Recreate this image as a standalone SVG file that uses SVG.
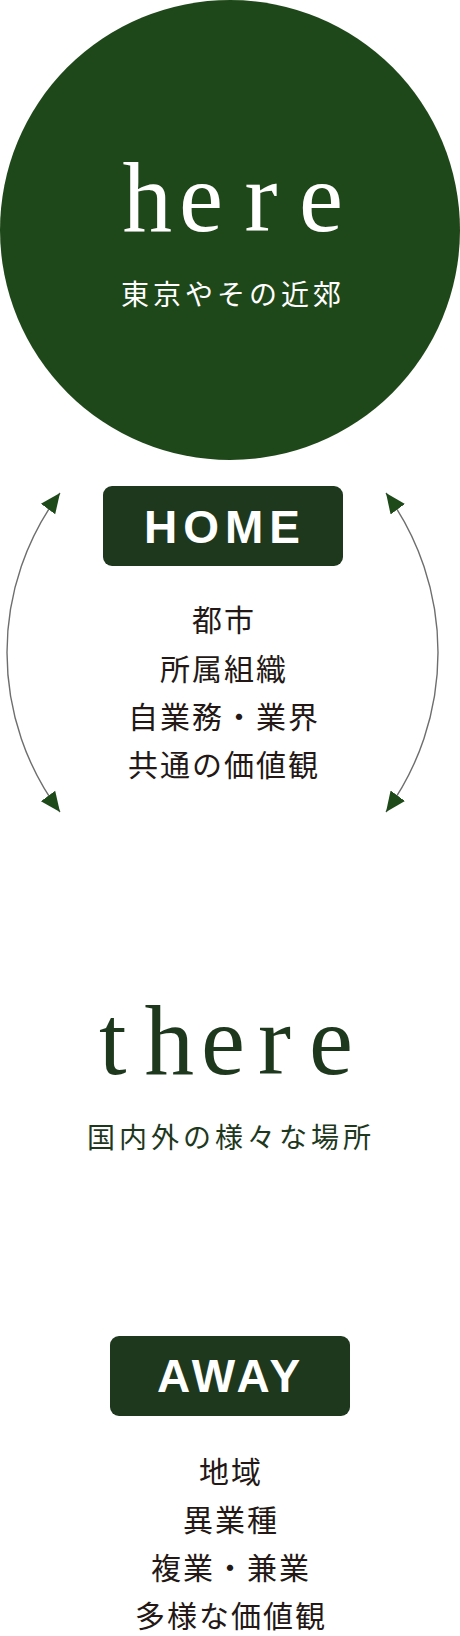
<svg xmlns="http://www.w3.org/2000/svg" width="460" height="1636" viewBox="0 0 460 1636">
  <style>
    .serif { font-family: "Liberation Serif", "Times New Roman", serif; font-size: 99px; }
    .sub { font-family: "Noto Sans CJK JP", sans-serif; font-size: 28px; letter-spacing: 4px; }
    .label { font-family: "Liberation Sans", Arial, sans-serif; font-weight: bold; font-size: 46px; fill: #ffffff; }
    .list { font-family: "Noto Sans CJK JP", sans-serif; font-size: 30px; letter-spacing: 2px; fill: #231815; text-anchor: middle; }
    .box { fill: #1e381e; }
    .conn { fill: none; stroke: #6e6e6e; stroke-width: 1.4; marker-start: url(#head); marker-end: url(#head); }
  </style>
  <defs>
    <marker id="head" markerUnits="userSpaceOnUse" markerWidth="20" markerHeight="20" viewBox="0 0 18 17" refX="18" refY="8.5" orient="auto-start-reverse">
      <path d="M0,0.5 L18,8.5 L0,16.5 z" fill="#1e4a1a"/>
    </marker>
  </defs>

  <g id="here">
    <circle cx="230" cy="230" r="230" fill="#1f481a"/>
    <text class="serif" fill="#ffffff" x="122.5 179 244.5 299" y="231">here</text>
    <text class="sub" fill="#ffffff" x="121" y="305">東京やその近郊</text>
  </g>

  <g id="home">
    <rect class="box" x="103" y="486" width="240" height="80" rx="9"/>
    <text class="label" x="144" y="543" letter-spacing="6">HOME</text>
    <text class="list" x="224" y="631">都市</text>
    <text class="list" x="224" y="680">所属組織</text>
    <text class="list" x="224" y="728">自業務・業界</text>
    <text class="list" x="224" y="776">共通の価値観</text>
  </g>

  <g id="connectors">
    <path class="conn" d="M60,493 A266.5,266.5 0 0 0 60,812"/>
    <path class="conn" d="M386,493 A270.6,270.6 0 0 1 386,812"/>
  </g>

  <g id="there">
    <text class="serif" fill="#1e381e" x="99 144.5 201 258 309" y="1074">there</text>
    <text class="sub" fill="#1e381e" x="87" y="1148">国内外の様々な場所</text>
  </g>

  <g id="away">
    <rect class="box" x="110" y="1336" width="240" height="80" rx="9"/>
    <text class="label" x="157" y="1392" letter-spacing="4">AWAY</text>
    <text class="list" x="231" y="1483">地域</text>
    <text class="list" x="231" y="1531">異業種</text>
    <text class="list" x="231" y="1579">複業・兼業</text>
    <text class="list" x="231" y="1627">多様な価値観</text>
  </g>
</svg>
